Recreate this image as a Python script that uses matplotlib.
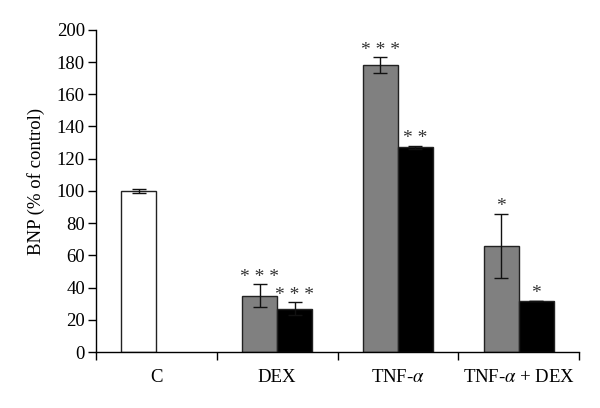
import matplotlib
matplotlib.use("Agg")
import matplotlib.pyplot as plt
import numpy as np

plt.rcParams['font.family'] = ['Liberation Serif', 'DejaVu Serif']
plt.rcParams['mathtext.fontset'] = 'stix'

groups = ['C', 'DEX', 'TNF-$\\alpha$', 'TNF-$\\alpha$ + DEX']
left_vals = [100, 35, 178, 66]
left_errs = [1, 7, 5, 20]
right_vals = [np.nan, 27, 127, 32]
right_errs = [np.nan, 4, 1, 0]
left_stars = ['', '* * *', '* * *', '*']
right_stars = ['', '* * *', '* *', '*']
left_colors = ['white', '#808080', '#808080', '#808080']

fig = plt.figure(figsize=(6, 4.08), dpi=100)
ax = fig.add_axes([0.16, 0.137, 0.805, 0.79])

x = np.arange(len(groups))
w = 0.29

ax.bar(x - w/2, left_vals, w, color=left_colors, edgecolor='#222222', linewidth=1)
ax.bar(x + w/2, right_vals, w, color='black', edgecolor='#222222', linewidth=1)
ax.errorbar(x - w/2, left_vals, yerr=left_errs, fmt='none', ecolor='#111111',
            elinewidth=1, capsize=5, capthick=1)
ax.errorbar(x + w/2, right_vals, yerr=right_errs, fmt='none', ecolor='#111111',
            elinewidth=1, capsize=5, capthick=1)

for i in range(len(groups)):
    if left_stars[i]:
        ax.text(x[i] - w/2, left_vals[i] + left_errs[i] - 1, left_stars[i],
                ha='center', va='bottom', fontsize=14, color='#333333')
    if right_stars[i]:
        ax.text(x[i] + w/2, right_vals[i] + right_errs[i] - 1, right_stars[i],
                ha='center', va='bottom', fontsize=14, color='#333333')

ax.set_xlim(-0.5, len(groups) - 0.5)
ax.set_ylim(0, 200)
ax.set_yticks(range(0, 201, 20))
ax.set_xticks(x)
ax.set_xticklabels(groups, fontsize=13.5)
ax.set_xticks(np.arange(-0.5, len(groups), 1), minor=True)
ax.tick_params(axis='x', which='major', length=0, pad=12)
ax.tick_params(axis='x', which='minor', length=6, direction='out', width=1)
ax.tick_params(axis='y', length=6, direction='out', width=1, labelsize=13.5, pad=2)
ax.set_ylabel('BNP (% of control)', fontsize=13.5)
ax.yaxis.set_label_coords(-0.105, 0.53)

ax.spines['top'].set_visible(False)
ax.spines['right'].set_visible(False)
ax.spines['left'].set_linewidth(1)
ax.spines['bottom'].set_linewidth(1)

fig.savefig('out.png', dpi=100)
